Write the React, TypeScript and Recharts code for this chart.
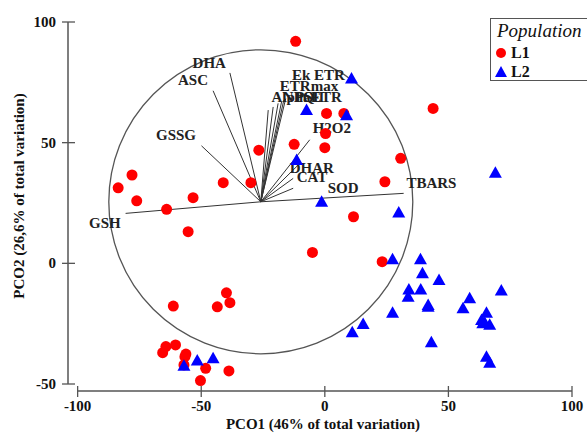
import {
  Legend,
  ReferenceDot,
  ReferenceLine,
  Scatter,
  ScatterChart,
  XAxis,
  YAxis,
} from "recharts";

// PCO scores: [PCO1, PCO2]
const l1Points: [number, number][] = [
  [-11.8, 92.0], [0.7, 62.1], [7.7, 62.1], [0.3, 53.8], [-12.4, 49.3],
  [0, 47.9], [-26.7, 46.9], [-78, 36.6], [-83.6, 31.3], [-76.1, 25.9],
  [-53.3, 27.2], [-41.1, 33.4], [-29.9, 33.4], [-64, 22.4], [43.8, 64.2],
  [30.7, 43.5], [24.3, 33.8], [11.6, 19.3], [-55.3, 13.1], [-5.0, 4.5],
  [23.2, 0.7], [-39.8, -12.2], [-38.4, -16.3], [-43.5, -18.0], [-61.3, -17.7],
  [-64.3, -34.5], [-60.4, -33.8], [-65.6, -37.0], [-56.2, -37.6], [-56.6, -38.7],
  [-57.0, -42.1], [-48.2, -43.5], [-38.8, -44.6], [-50.3, -48.6],
];

const l2Points: [number, number][] = [
  [10.8, 76.6], [-7.4, 63.5], [8.8, 61.4], [-11.4, 42.8], [-1.3, 25.5],
  [29.9, 21.1], [69.0, 37.5], [-51.6, -40.3], [-45.2, -39.3], [-57.0, -42.4],
  [11.1, -28.6], [27.4, 1.7], [38.7, 1.7], [39.5, -4.1], [46.2, -6.9],
  [34.0, -10.8], [38.8, -10.8], [33.7, -13.8], [41.8, -17.3], [41.8, -18.0],
  [27.4, -20.5], [58.6, -14.5], [55.9, -18.6], [71.4, -11.3], [65.4, -20.5],
  [63.4, -23.5], [64.7, -24.6], [66.7, -25.5], [63.9, -24.8], [15.5, -25.1],
  [43.1, -32.7], [65.4, -38.7], [66.7, -41.2],
];

// vector overlay
const vectorOrigin = { x: -25.9, y: 25.5 };
const vectorNames = [
  "GSH", "TBARS", "GSSG", "ASC", "DHA", "Alpha", "NPQ", "PSII", "ETR",
  "ETRmax", "Ek ETR", "H2O2", "DHAR", "CAT", "SOD",
];
const vectorEnds: [number, number][] = [
  [-80.6, 20.7], [31.9, 29.0], [-49.9, 48.7], [-45.2, 71.5], [-38.4, 78.9],
  [-22.9, 63.5], [-20.9, 64.8], [-18.9, 66.3], [-17.5, 66.9], [-16.6, 67.6],
  [-15.8, 68.3], [-6.1, 51.2], [-10.8, 40.7], [-12.8, 35.2], [-12.8, 31.1],
];
const vectorLabelAt: [number, number][] = [
  [-95.4, 16.8], [33.0, 33.1], [-68.3, 53.1], [-59.4, 75.9], [-53.5, 83.2],
  [-21.6, 69.0], [-17.0, 69.0], [-12.0, 69.0], [-5.6, 69.0],
  [-18.2, 73.4], [-13.3, 78.0], [-4.9, 56.0], [-14.2, 39.6], [-11.4, 35.7],
  [1.2, 31.2],
];

const xTicks = [-100, -50, 0, 50, 100];
const yTicks = [-50, 0, 50, 100];

const SERIF = '"Liberation Serif", "Times New Roman", "DejaVu Serif", serif';
const X_MIN = -103.9;
const Y_MIN = -52.9;

const l1 = l1Points.map(([x, y]) => ({ x, y }));
const l2 = l2Points.map(([x, y]) => ({ x, y }));
const labels = vectorNames.map((name, i) => ({
  name,
  x: vectorLabelAt[i][0],
  y: vectorLabelAt[i][1],
}));

const RedDot = (p: any) => <circle cx={p.cx} cy={p.cy} r={5.5} fill="#ff0000" />;
const BlueTri = (p: any) => (
  <polygon
    points={`${p.cx},${p.cy - 6.5} ${p.cx - 6.5},${p.cy + 5} ${p.cx + 6.5},${p.cy + 5}`}
    fill="#0000ff"
  />
);
const VectorText = (p: any) => (
  <text
    x={p.cx}
    y={p.cy}
    dominantBaseline="central"
    style={{ fontFamily: SERIF, fontWeight: "bold", fontSize: 15 }}
    fill="#222"
  >
    {p.payload.name}
  </text>
);

const XTick = ({ x, payload }: any) => (
  <g>
    <line x1={x} x2={x} y1={386} y2={397} stroke="#555" strokeWidth={1.3} />
    <text x={x} y={411} textAnchor="middle" style={{ fontFamily: SERIF, fontWeight: "bold", fontSize: 15 }} fill="#111">
      {payload.value}
    </text>
  </g>
);
const YTick = ({ y, payload }: any) => (
  <g>
    <line x1={62} x2={75} y1={y} y2={y} stroke="#555" strokeWidth={1.3} />
    <text x={56} y={y + 5} textAnchor="end" style={{ fontFamily: SERIF, fontWeight: "bold", fontSize: 15 }} fill="#111">
      {payload.value}
    </text>
  </g>
);

const XTitle = () => (
  <text x={323} y={429} textAnchor="middle" style={{ fontFamily: SERIF, fontWeight: "bold", fontSize: 15 }} fill="#111">
    PCO1 (46% of total variation)
  </text>
);
const YTitle = () => (
  <text
    x={19}
    y={196}
    transform="rotate(-90 19 196)"
    textAnchor="middle"
    dominantBaseline="central"
    style={{ fontFamily: SERIF, fontWeight: "bold", fontSize: 15 }}
    fill="#111"
  >
    PCO2 (26,6% of total variation)
  </text>
);

const LegendBox = () => (
  <div
    style={{
      width: 130,
      height: 63,
      border: "1px solid #555",
      background: "#fff",
      fontFamily: SERIF,
      position: "relative",
      boxSizing: "border-box",
      color: "#111",
    }}
  >
    <div style={{ position: "absolute", left: 6, top: 1, fontStyle: "italic", fontSize: 19, lineHeight: "22px" }}>
      Population
    </div>
    <svg style={{ position: "absolute", left: 4, top: 26 }} width={14} height={36}>
      <circle cx={6} cy={8} r={5} fill="#ff0000" />
      <polygon points="6,21 0,32 12,32" fill="#0000ff" />
    </svg>
    <div style={{ position: "absolute", left: 20, top: 25, fontWeight: "bold", fontSize: 16, lineHeight: "18px" }}>
      L1
    </div>
    <div style={{ position: "absolute", left: 20, top: 44, fontWeight: "bold", fontSize: 16, lineHeight: "18px" }}>
      L2
    </div>
  </div>
);

export default function App() {
  return (
    <div style={{ position: "absolute", left: 0, top: 0, width: 587, height: 433, overflow: "hidden", background: "#fff" }}>
      <ScatterChart width={587} height={433} margin={{ top: 22, right: 15, bottom: 12, left: 8 }}>
        <XAxis
          type="number"
          dataKey="x"
          domain={[X_MIN, 100]}
          ticks={xTicks}
          allowDataOverflow
          axisLine={false}
          tickLine={false}
          tick={<XTick />}
          height={30}
          label={<XTitle />}
        />
        <YAxis
          type="number"
          dataKey="y"
          domain={[Y_MIN, 100]}
          ticks={yTicks}
          allowDataOverflow
          axisLine={false}
          tickLine={false}
          tick={<YTick />}
          width={60}
          label={<YTitle />}
        />
        <ReferenceLine
          segment={[{ x: -100, y: Y_MIN }, { x: 100, y: Y_MIN }]}
          stroke="#555"
          strokeWidth={1.5}
          ifOverflow="visible"
        />
        <ReferenceLine
          segment={[{ x: X_MIN, y: -50 }, { x: X_MIN, y: 100 }]}
          stroke="#555"
          strokeWidth={1.5}
          ifOverflow="visible"
        />
        <ReferenceDot
          x={vectorOrigin.x}
          y={vectorOrigin.y}
          r={152}
          fill="none"
          stroke="#555"
          strokeWidth={1.3}
          ifOverflow="visible"
        />
        {vectorEnds.map(([x, y], i) => (
          <ReferenceLine
            key={vectorNames[i]}
            segment={[vectorOrigin, { x, y }]}
            stroke="#333"
            strokeWidth={1}
            ifOverflow="visible"
          />
        ))}
        <Scatter name="vectors" data={labels} shape={<VectorText />} isAnimationActive={false} legendType="none" />
        <Scatter name="L1" data={l1} shape={<RedDot />} isAnimationActive={false} />
        <Scatter name="L2" data={l2} shape={<BlueTri />} isAnimationActive={false} />
        <Legend
          layout="vertical"
          align="center"
          verticalAlign="middle"
          content={<LegendBox />}
          wrapperStyle={{ position: "absolute", left: 490, top: 18, width: 130, height: 63 }}
        />
      </ScatterChart>
    </div>
  );
}
